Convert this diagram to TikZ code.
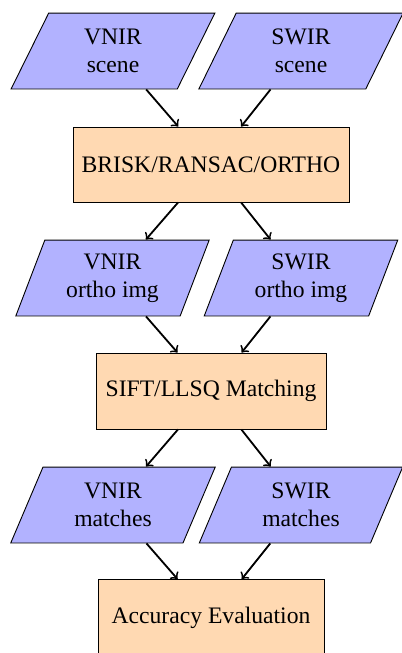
\documentclass[tikz,border=0pt]{standalone}
\usepackage{fontspec}
\setmainfont{Liberation Serif}
\usepackage{tikz}
\usetikzlibrary{shapes.geometric, arrows, positioning}

\begin{document}
\begin{tikzpicture}[x=0.44pt,y=-0.44pt,>=to,
  every node/.style={font=\fontsize{10.4}{12.2}\selectfont},
  io/.style={trapezium, trapezium left angle=70, trapezium right angle=110,
    trapezium stretches=true, draw, fill=blue!30, align=center,
    minimum height=33.4pt, minimum width=90pt},
  proc/.style={rectangle, draw, fill=orange!30, align=center,
    minimum height=33pt},
  flow/.style={->, thick}]
  \useasboundingbox (0,0) rectangle (402,653);
%%
  % Inputs
  \node[io] (vnirscene) at (113,51) {VNIR\\scene};
  \node[io] (swirscene) at (301,51) {SWIR\\scene};
  % Node: ortho
  \node[proc, minimum width=121.4pt] (brisk) at (211,164.5) {BRISK/RANSAC/ORTHO};
  \node[io, minimum width=85.5pt] (vnirortho) at (112.5,278) {VNIR\\ortho img};
  \node[io, minimum width=85.5pt] (swirortho) at (301,278) {SWIR\\ortho img};
  % Node: matching
  \node[proc, minimum width=101.2pt, minimum height=33.4pt] (sift) at (211,391) {SIFT/LLSQ Matching};
  \node[io] (vnirmatch) at (113,505) {VNIR\\matches};
  \node[io] (swirmatch) at (301,505) {SWIR\\matches};
  % Node: evaluation
  \node[proc, minimum width=99.4pt, minimum height=33.4pt] (accuracy) at (211,617.5) {Accuracy Evaluation};
%
  % Edges
  \draw[flow] (vnirscene) -- (brisk);
  \draw[flow] (swirscene) -- (brisk);
  \draw[flow] (brisk) -- (vnirortho);
  \draw[flow] (brisk) -- (swirortho);
  \draw[flow] (vnirortho) -- (sift);
  \draw[flow] (swirortho) -- (sift);
  \draw[flow] (sift) -- (vnirmatch);
  \draw[flow] (sift) -- (swirmatch);
  \draw[flow] (vnirmatch) -- (accuracy);
  \draw[flow] (swirmatch) -- (accuracy);
\end{tikzpicture}
\end{document}
